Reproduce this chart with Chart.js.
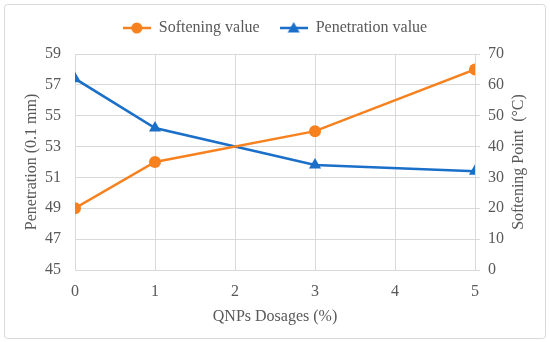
<html>
<head>
    <title>QNPs Dosages</title>
    <script src="https://cdn.jsdelivr.net/npm/chart.js"></script>
    <style>
        body { margin: 0; background: white; }
        canvas { display: block; }
    </style>
</head>
<body>
    <canvas id="lineChart" width="550" height="342"></canvas>

    <script>
        // values
        var dosages = [0, 1, 3, 5];
        var softening = [20, 35, 45, 65];          // right axis, °C
        var penetration = [57.4, 54.2, 51.8, 51.4]; // left axis, 0.1 mm
        var xTicks = [0, 1, 2, 3, 4, 5];
        var penTicks = [45, 47, 49, 51, 53, 55, 57, 59];
        var softTicks = [0, 10, 20, 30, 40, 50, 60, 70];

        var orange = "#f7811e";
        var blue = "#1a6fc9";
        var grey = "#595959";
        var gridColor = "#d9d9d9";
        var fontFamily = "'Liberation Serif', 'Times New Roman', serif";
        var font = { family: fontFamily, size: 16 };

        function toPoints(vals) {
            return dosages.map((d, i) => ({ x: d, y: vals[i] }));
        }

        // little line+marker swatch for the legend
        function swatch(color, shape) {
            var c = document.createElement("canvas");
            c.width = 28; c.height = 14;
            var g = c.getContext("2d");
            g.strokeStyle = color; g.fillStyle = color; g.lineWidth = 2.5;
            g.beginPath(); g.moveTo(0, 7); g.lineTo(28, 7); g.stroke();
            g.beginPath();
            if (shape === "circle") {
                g.arc(14, 7, 5.5, 0, Math.PI * 2);
            } else {
                g.moveTo(14, 1); g.lineTo(20, 11.5); g.lineTo(8, 11.5); g.closePath();
            }
            g.fill();
            return c;
        }
        var swatches = [swatch(orange, "circle"), swatch(blue, "triangle")];

        var frame = {
            id: "frame",
            beforeInit(chart) {
                var fit = chart.legend.fit;
                chart.legend.fit = function () { fit.bind(chart.legend)(); this.height = 54; };
            },
            beforeDraw(chart) {
                var ctx = chart.ctx;
                ctx.save();
                ctx.fillStyle = "white";
                ctx.fillRect(0, 0, chart.width, chart.height);
                ctx.strokeStyle = gridColor;
                ctx.lineWidth = 1;
                ctx.beginPath();
                ctx.roundRect(4.5, 4.5, chart.width - 9, chart.height - 8, 3);
                ctx.stroke();
                ctx.restore();
            },
            afterDraw(chart) {
                // right axis title reads bottom-to-top, like the left one
                var ctx = chart.ctx;
                var area = chart.chartArea;
                ctx.save();
                ctx.translate(519, (area.top + area.bottom) / 2);
                ctx.rotate(-Math.PI / 2);
                ctx.font = "16px " + fontFamily;
                ctx.fillStyle = grey;
                ctx.textAlign = "center";
                ctx.textBaseline = "middle";
                ctx.fillText("Softening Point  (°C)", 0, 0);
                ctx.restore();
            }
        };

        new Chart(document.getElementById("lineChart"), {
            type: "line",
            data: {
                datasets: [
                    {
                        label: "Softening value",
                        data: toPoints(softening),
                        yAxisID: "ySoft",
                        borderColor: orange, backgroundColor: orange,
                        borderWidth: 2.5, pointStyle: "circle", pointRadius: 6,
                        pointBorderWidth: 0, tension: 0
                    },
                    {
                        label: "Penetration value",
                        data: toPoints(penetration),
                        yAxisID: "yPen",
                        borderColor: blue, backgroundColor: blue,
                        borderWidth: 2.5, pointStyle: "triangle", pointRadius: 7,
                        pointBorderWidth: 0, tension: 0
                    }
                ]
            },
            options: {
                responsive: false,
                animation: false,
                layout: { padding: 0 },
                plugins: {
                    tooltip: { enabled: false },
                    legend: {
                        position: "top",
                        labels: {
                            font: font, color: grey, padding: 20,
                            usePointStyle: true, pointStyleWidth: 28, boxHeight: 14,
                            generateLabels(chart) {
                                var items = Chart.defaults.plugins.legend.labels.generateLabels(chart);
                                items.forEach((it, i) => { it.pointStyle = swatches[i]; });
                                return items;
                            }
                        }
                    }
                },
                scales: {
                    x: {
                        type: "linear", min: 0, max: 5,
                        afterBuildTicks: s => { s.ticks = xTicks.map(v => ({ value: v })); },
                        afterFit: s => { s.height = 72; },
                        ticks: { font: font, color: grey, padding: 12 },
                        grid: { color: gridColor, drawTicks: false },
                        border: { color: gridColor },
                        title: { display: true, text: "QNPs Dosages (%)", font: font, color: grey, padding: { bottom: 16 } }
                    },
                    yPen: {
                        position: "left", min: 45, max: 59,
                        afterBuildTicks: s => { s.ticks = penTicks.map(v => ({ value: v })); },
                        afterFit: s => { s.width = 75; },
                        ticks: { font: font, color: grey, padding: 14 },
                        grid: { color: gridColor, drawTicks: false },
                        border: { color: gridColor },
                        title: { display: true, text: "Penetration (0.1 mm)", font: font, color: grey, padding: { top: 22 } }
                    },
                    ySoft: {
                        position: "right", min: 0, max: 70,
                        afterBuildTicks: s => { s.ticks = softTicks.map(v => ({ value: v })); },
                        afterFit: s => { s.width = 75; },
                        ticks: { font: font, color: grey, padding: 8 },
                        grid: { color: gridColor, drawOnChartArea: false, drawTicks: true, tickLength: 5 },
                        border: { color: gridColor },
                        title: { display: false }
                    }
                }
            },
            plugins: [frame]
        });
    </script>
</body>
</html>
